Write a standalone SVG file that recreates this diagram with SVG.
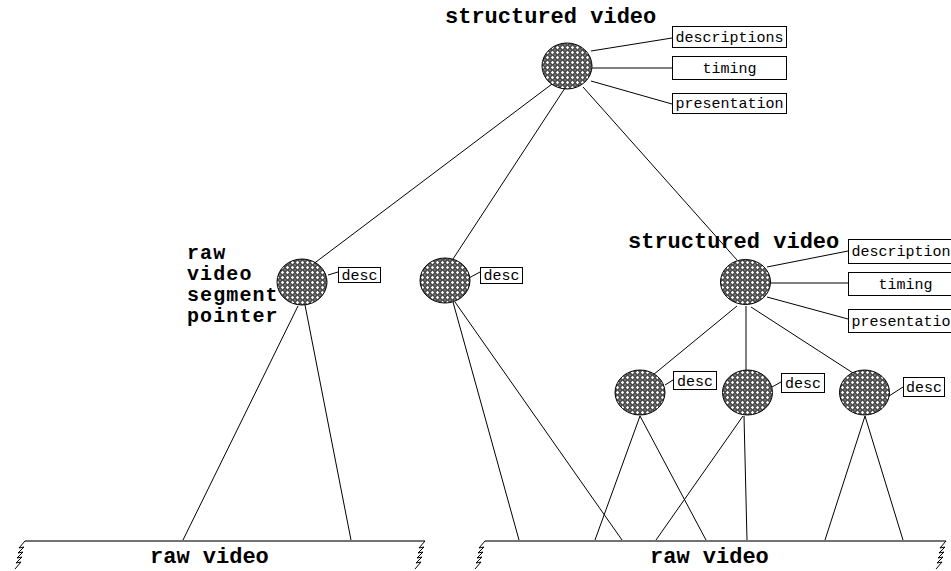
<svg xmlns="http://www.w3.org/2000/svg" width="951" height="571" viewBox="0 0 951 571">
<style>
.bg{fill:#fff}
.node{fill:url(#hatch);stroke:#000;stroke-width:1}
.box{fill:#fff;stroke:#000;stroke-width:1}
.bt{font-family:"Liberation Mono","Courier New",monospace;font-size:15px;fill:#000}
.title{font-family:"Liberation Mono","Courier New",monospace;font-size:22px;font-weight:bold;fill:#000}
.stack{font-family:"Liberation Mono","Courier New",monospace;font-size:20px;letter-spacing:1.1px;font-weight:bold;fill:#000}
.ln{stroke:#000;stroke-width:1;fill:none}
.base{stroke:#444;stroke-width:1.5;fill:none}
.zz{stroke:#000;stroke-width:1;fill:none}
</style>
<defs>
<pattern id="hatch" width="5" height="5" patternUnits="userSpaceOnUse">
<rect width="5" height="5" fill="#4a4a4a"/>
<path d="M2.5,0.8 L4.2,2.5 L2.5,4.2 L0.8,2.5 Z" fill="#fff"/>
<path d="M0,0 L0.8,0 L0,0.8 Z M5,0 L4.2,0 L5,0.8 Z M0,5 L0.8,5 L0,4.2 Z M5,5 L4.2,5 L5,4.2 Z" fill="#ccc"/>
</pattern>
<path id="zig" d="M0,0 L-6,7 L-1,6 L-7,12 L-2,11 L-8,17 L-3,16 L-9,22 L-4,21 L-10,28"/>
</defs>
<rect class="bg" x="0" y="0" width="951" height="571"/>

<g id="connectors">
<line class="ln" x1="552" y1="84" x2="304" y2="271"/>
<line class="ln" x1="565" y1="88" x2="453" y2="259"/>
<line class="ln" x1="583" y1="87" x2="737" y2="260"/>
<line class="ln" x1="591" y1="51" x2="672" y2="38"/>
<line class="ln" x1="592" y1="68" x2="672" y2="68"/>
<line class="ln" x1="591" y1="81" x2="672" y2="104"/>
<line class="ln" x1="328" y1="275" x2="338" y2="272"/>
<line class="ln" x1="469" y1="278" x2="480" y2="272"/>
<line class="ln" x1="767" y1="267" x2="848" y2="251"/>
<line class="ln" x1="771" y1="283" x2="848" y2="283"/>
<line class="ln" x1="767" y1="297" x2="848" y2="319"/>
<line class="ln" x1="737" y1="306" x2="653" y2="375"/>
<line class="ln" x1="746" y1="306" x2="746" y2="370"/>
<line class="ln" x1="751" y1="307" x2="853" y2="373"/>
<line class="ln" x1="665" y1="385" x2="673" y2="380"/>
<line class="ln" x1="772" y1="387" x2="781" y2="382"/>
<line class="ln" x1="889" y1="396" x2="903" y2="387"/>
<line class="ln" x1="298" y1="306" x2="183" y2="540"/>
<line class="ln" x1="305" y1="305" x2="351" y2="540"/>
<line class="ln" x1="453" y1="302" x2="519" y2="540"/>
<line class="ln" x1="455" y1="302" x2="622" y2="540"/>
<line class="ln" x1="640" y1="416" x2="595" y2="540"/>
<line class="ln" x1="640" y1="416" x2="706" y2="540"/>
<line class="ln" x1="743" y1="416" x2="656" y2="540"/>
<line class="ln" x1="744" y1="416" x2="747" y2="540"/>
<line class="ln" x1="865" y1="416" x2="825" y2="540"/>
<line class="ln" x1="865" y1="416" x2="903" y2="540"/>
</g>

<g id="sv-top">
<text class="title" x="445" y="23">structured video</text>
<ellipse class="node" cx="567" cy="66" rx="25" ry="23"/>
</g>
<g id="sv-top-descriptions"><rect class="box" x="672.5" y="26.5" width="114" height="21"/><text class="bt" x="729.5" y="42" text-anchor="middle">descriptions</text></g>
<g id="sv-top-timing"><rect class="box" x="672.5" y="56.5" width="114" height="23"/><text class="bt" x="729.5" y="73" text-anchor="middle">timing</text></g>
<g id="sv-top-presentation"><rect class="box" x="672.5" y="93.5" width="114" height="20"/><text class="bt" x="729.5" y="108" text-anchor="middle">presentation</text></g>

<g id="rvsp">
<text class="stack" x="187" y="259">raw</text>
<text class="stack" x="187" y="280">video</text>
<text class="stack" x="187" y="301">segment</text>
<text class="stack" x="187" y="322">pointer</text>
<ellipse class="node" cx="302" cy="282" rx="25" ry="23"/>
</g>
<g id="rvsp-desc"><rect class="box" x="338.5" y="267.5" width="42" height="15"/><text class="bt" x="359.5" y="279.5" text-anchor="middle">desc</text></g>

<g id="mid">
<ellipse class="node" cx="445" cy="280.5" rx="25" ry="22.5"/>
</g>
<g id="mid-desc"><rect class="box" x="480.5" y="267.5" width="42" height="16"/><text class="bt" x="501.5" y="280" text-anchor="middle">desc</text></g>

<g id="sv-right">
<text class="title" x="628" y="248">structured video</text>
<ellipse class="node" cx="745.5" cy="282" rx="25" ry="22.5"/>
</g>
<g id="sv-right-descriptions"><rect class="box" x="848.5" y="239.5" width="114" height="24"/><text class="bt" x="905.5" y="256" text-anchor="middle">descriptions</text></g>
<g id="sv-right-timing"><rect class="box" x="848.5" y="272.5" width="114" height="23"/><text class="bt" x="905.5" y="289" text-anchor="middle">timing</text></g>
<g id="sv-right-presentation"><rect class="box" x="848.5" y="309.5" width="114" height="23"/><text class="bt" x="905.5" y="326" text-anchor="middle">presentation</text></g>

<g id="n1"><ellipse class="node" cx="640" cy="392.5" rx="25" ry="22.5"/></g>
<g id="n1-desc"><rect class="box" x="673.5" y="371.5" width="43" height="18"/><text class="bt" x="695" y="385.5" text-anchor="middle">desc</text></g>
<g id="n2"><ellipse class="node" cx="747.5" cy="392.5" rx="25" ry="22.5"/></g>
<g id="n2-desc"><rect class="box" x="781.5" y="373.5" width="43" height="19"/><text class="bt" x="803" y="388" text-anchor="middle">desc</text></g>
<g id="n3"><ellipse class="node" cx="864.5" cy="392.5" rx="25" ry="22.5"/></g>
<g id="n3-desc"><rect class="box" x="903.5" y="377.5" width="41" height="19"/><text class="bt" x="924" y="392" text-anchor="middle">desc</text></g>

<g id="raw-left">
<line class="base" x1="25" y1="541" x2="425" y2="541"/>
<use href="#zig" class="zz" x="25" y="541"/>
<use href="#zig" class="zz" x="425" y="541"/>
<text class="title" x="150" y="563">raw video</text>
</g>
<g id="raw-right">
<line class="base" x1="485" y1="541" x2="946" y2="541"/>
<use href="#zig" class="zz" x="485" y="541"/>
<use href="#zig" class="zz" x="946" y="541"/>
<text class="title" x="650" y="563">raw video</text>
</g>
</svg>
